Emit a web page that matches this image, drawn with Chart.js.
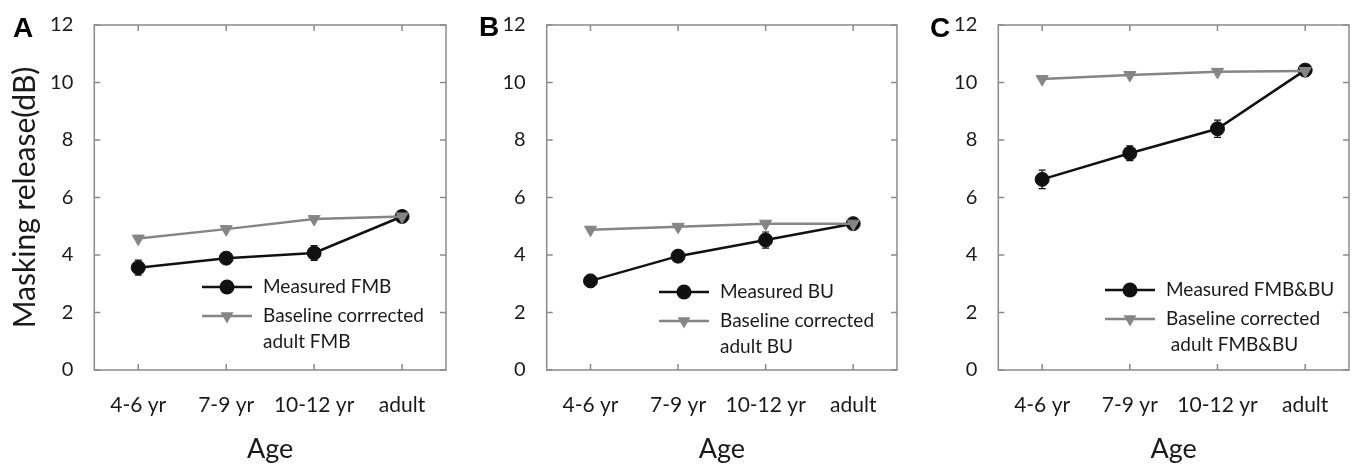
<!DOCTYPE html>
<html>
<head>
<meta charset="utf-8">
<script src="https://cdn.jsdelivr.net/npm/chart.js@4.4.1/dist/chart.umd.min.js"></script>
<style>
html, body { margin: 0; padding: 0; background: #fff; }
body { width: 1357px; height: 465px; position: relative; overflow: hidden; }
.panel { position: absolute; top: 0; height: 465px; }
</style>
</head>
<body>
<div class="panel" style="left:0"><canvas id="chartA" width="455" height="465"></canvas></div>
<div class="panel" style="left:460px"><canvas id="chartB" width="445" height="465"></canvas></div>
<div class="panel" style="left:910px"><canvas id="chartC" width="447" height="465"></canvas></div>
<script>
// 軸ラベル
const ageGroups = ['4-6 yr', '7-9 yr', '10-12 yr', 'adult'];
const yTickValues = [0, 2, 4, 6, 8, 10, 12];

// A: FMB
const fmbMeasured = [3.56, 3.89, 4.07, 5.34];
const fmbMeasuredErr = [0.26, 0.2, 0.26, 0.2];
const fmbBaseline = [4.57, 4.90, 5.25, 5.34];

// B: BU
const buMeasured = [3.10, 3.96, 4.52, 5.09];
const buMeasuredErr = [0.2, 0.2, 0.28, 0.15];
const buBaseline = [4.88, 4.98, 5.09, 5.09];

// C: FMB&BU
const bothMeasured = [6.63, 7.54, 8.39, 10.43];
const bothMeasuredErr = [0.32, 0.26, 0.3, 0.2];
const bothBaseline = [10.12, 10.26, 10.37, 10.40];

const TEXT = '#1a1a1a';
const BLACK = '#111';
const GREY = '#858585';
const FRAME = '#8a8a8a';

Chart.defaults.font.family = 'Lato';
Chart.defaults.color = TEXT;

// マーカー描画（凡例用）
function drawMarker(ctx, style, x, y, r, color) {
    ctx.fillStyle = color;
    ctx.beginPath();
    if (style === 'circle') {
        ctx.arc(x, y, r, 0, Math.PI * 2);
    } else {
        ctx.moveTo(x, y + r);
        ctx.lineTo(x - r * 0.866, y - r / 2);
        ctx.lineTo(x + r * 0.866, y - r / 2);
        ctx.closePath();
    }
    ctx.fill();
}

// 枠線と内向きの目盛り、エラーバー
const framePlugin = {
    id: 'frame',
    beforeDatasetsDraw(chart) {
        const { ctx, chartArea: a, scales } = chart;
        ctx.save();
        ctx.strokeStyle = FRAME;
        ctx.lineWidth = 1.5;
        ctx.strokeRect(a.left, a.top, a.right - a.left, a.bottom - a.top);
        ctx.beginPath();
        scales.y.ticks.forEach(t => {
            const py = scales.y.getPixelForValue(t.value);
            ctx.moveTo(a.left, py); ctx.lineTo(a.left + 6, py);
            ctx.moveTo(a.right, py); ctx.lineTo(a.right - 6, py);
        });
        ageGroups.forEach((_, i) => {
            const px = scales.x.getPixelForValue(i);
            ctx.moveTo(px, a.bottom); ctx.lineTo(px, a.bottom - 6);
            ctx.moveTo(px, a.top); ctx.lineTo(px, a.top + 6);
        });
        ctx.stroke();

        chart.data.datasets.forEach(ds => {
            if (!ds.errors) return;
            ctx.strokeStyle = BLACK;
            ctx.lineWidth = 1.2;
            ctx.beginPath();
            ds.data.forEach((v, i) => {
                const px = scales.x.getPixelForValue(i);
                const y1 = scales.y.getPixelForValue(v - ds.errors[i]);
                const y2 = scales.y.getPixelForValue(v + ds.errors[i]);
                ctx.moveTo(px, y1); ctx.lineTo(px, y2);
                ctx.moveTo(px - 3.5, y1); ctx.lineTo(px + 3.5, y1);
                ctx.moveTo(px - 3.5, y2); ctx.lineTo(px + 3.5, y2);
            });
            ctx.stroke();
        });
        ctx.restore();
    }
};

// 凡例とパネル記号
const legendPlugin = {
    id: 'panelLegend',
    afterDatasetsDraw(chart, args, opts) {
        const { ctx } = chart;
        ctx.save();
        ctx.font = 'bold 28px "Liberation Sans", Arial';
        ctx.fillStyle = '#000';
        ctx.textBaseline = 'alphabetic';
        ctx.fillText(opts.letter, opts.letterX, opts.letterY);

        ctx.font = '19px Lato';
        ctx.textBaseline = 'middle';
        let y = opts.y;
        chart.data.datasets.forEach(ds => {
            ctx.strokeStyle = ds.borderColor;
            ctx.lineWidth = ds.borderWidth;
            ctx.beginPath();
            ctx.moveTo(opts.x, y);
            ctx.lineTo(opts.x + 50, y);
            ctx.stroke();
            drawMarker(ctx, ds.pointStyle, opts.x + 25, y, ds.pointRadius + 0.5, ds.pointBackgroundColor);
            ctx.fillStyle = TEXT;
            ds.label.forEach((line, k) => {
                ctx.fillText(line, opts.x + 61, y + k * 26);
            });
            y += 29;
        });
        ctx.restore();
    }
};

function makePanel(id, p) {
    new Chart(document.getElementById(id), {
        type: 'line',
        data: {
            labels: ageGroups,
            datasets: [
                {
                    label: p.measuredLabel,
                    data: p.measured,
                    errors: p.errors,
                    borderColor: BLACK,
                    borderWidth: 2.5,
                    pointStyle: 'circle',
                    pointRadius: 7,
                    pointBackgroundColor: BLACK,
                    pointBorderColor: BLACK,
                    pointBorderWidth: 1,
                    order: 2
                },
                {
                    label: p.baselineLabel,
                    data: p.baseline,
                    borderColor: GREY,
                    borderWidth: 2.5,
                    pointStyle: 'triangle',
                    pointRotation: 180,
                    pointRadius: 7,
                    pointBackgroundColor: GREY,
                    pointBorderColor: GREY,
                    pointBorderWidth: 1,
                    order: 1
                }
            ]
        },
        options: {
            responsive: false,
            animation: false,
            events: [],
            layout: { padding: { top: 19, right: p.padRight, left: 0, bottom: 0 } },
            elements: { line: { tension: 0 } },
            plugins: {
                legend: { display: false },
                tooltip: { enabled: false },
                panelLegend: p.legend
            },
            scales: {
                x: {
                    type: 'category',
                    offset: true,
                    grid: { display: false },
                    border: { display: false },
                    ticks: { font: { size: 21 }, padding: 15, color: TEXT },
                    title: { display: true, text: 'Age', font: { size: 27 }, padding: 0, color: TEXT },
                    afterFit(s) { s.height = 95; }
                },
                y: {
                    min: 0,
                    max: 12,
                    grid: { display: false },
                    border: { display: false },
                    afterBuildTicks(s) { s.ticks = yTickValues.map(v => ({ value: v })); },
                    ticks: { font: { size: 20 }, padding: 13, color: TEXT },
                    title: {
                        display: p.yTitle,
                        text: 'Masking release(dB)',
                        font: { size: 30 },
                        padding: { top: 7 },
                        color: TEXT
                    },
                    afterFit(s) { s.width = p.yWidth; }
                }
            }
        },
        plugins: [framePlugin, legendPlugin]
    });
}

makePanel('chartA', {
    measured: fmbMeasured, errors: fmbMeasuredErr, baseline: fmbBaseline,
    measuredLabel: ['Measured FMB'],
    baselineLabel: ['Baseline corrrected', 'adult FMB'],
    yTitle: true, yWidth: 94.3, padRight: 9,
    legend: { letter: 'A', letterX: 13, letterY: 37, x: 202, y: 287 }
});

makePanel('chartB', {
    measured: buMeasured, errors: buMeasuredErr, baseline: buBaseline,
    measuredLabel: ['Measured BU'],
    baselineLabel: ['Baseline corrected', 'adult BU'],
    yTitle: false, yWidth: 86.7, padRight: 7.3,
    legend: { letter: 'B', letterX: 19, letterY: 36, x: 199, y: 292 }
});

makePanel('chartC', {
    measured: bothMeasured, errors: bothMeasuredErr, baseline: bothBaseline,
    measuredLabel: ['Measured FMB&BU'],
    baselineLabel: ['Baseline corrected', ' adult FMB&BU'],
    yTitle: false, yWidth: 88.3, padRight: 7,
    legend: { letter: 'C', letterX: 20, letterY: 37, x: 195, y: 290 }
});
</script>
</body>
</html>
